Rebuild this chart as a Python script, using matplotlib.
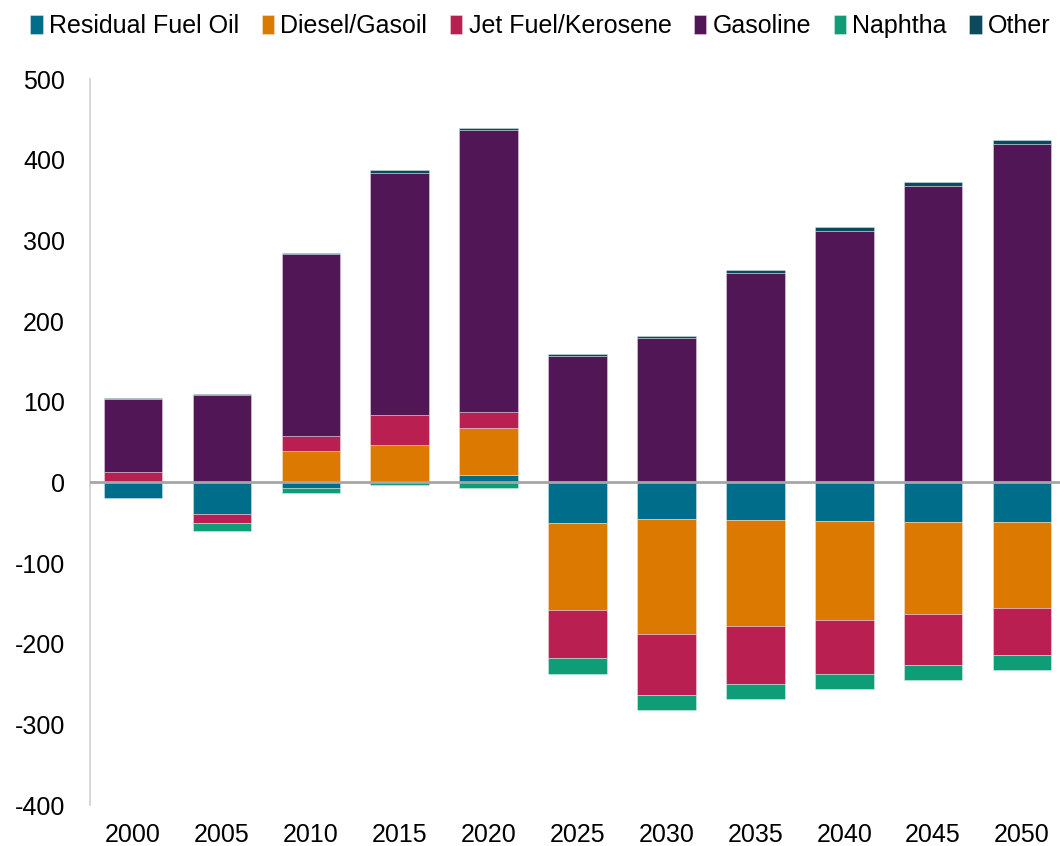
import matplotlib.pyplot as plt
import numpy as np

plt.rcParams['font.family'] = ['Liberation Sans', 'DejaVu Sans']
plt.rcParams['axes.unicode_minus'] = False

years = ['2000', '2005', '2010', '2015', '2020', '2025', '2030', '2035', '2040', '2045', '2050']
residual = [-20, -39, -6.5, 0, 9, -50, -45, -46.7, -48, -48.7, -49.6]
diesel = [0, 0, 39, 46, 58, -108, -142.6, -131.8, -123, -114.4, -106]
jet = [13, -11, 18.6, 37, 20, -59.5, -76, -71.5, -67, -63.2, -58.3]
gasoline = [90.5, 108, 226, 300, 350, 157, 179, 259, 312, 367, 419]
naphtha = [0, -10.5, -6.6, -3, -6.6, -20.2, -18.2, -18.2, -18.2, -18.2, -19]
other = [1.5, 1, 1, 4, 2, 2, 2, 4, 4, 5, 5.5]

series = [
    ('Residual Fuel Oil', residual, '#006E8A'),
    ('Diesel/Gasoil', diesel, '#DB7900'),
    ('Jet Fuel/Kerosene', jet, '#B91F51'),
    ('Gasoline', gasoline, '#501655'),
    ('Naphtha', naphtha, '#0F9D78'),
    ('Other', other, '#0A4A5C'),
]

x = np.arange(len(years))
width = 0.66

fig = plt.figure(figsize=(10.6, 8.46), dpi=100)
ax = fig.add_axes([90 / 1060, 41 / 846, 972 / 1060, 726 / 846])

pos = np.zeros(len(years))
neg = np.zeros(len(years))
for name, vals, color in series:
    vals = np.array(vals, dtype=float)
    bottom = np.where(vals >= 0, pos, neg)
    ax.bar(x, vals, width, bottom=bottom, color=color, label=name,
           edgecolor=(1, 1, 1, 0.4), linewidth=0.6)
    pos += np.where(vals >= 0, vals, 0)
    neg += np.where(vals < 0, vals, 0)

ax.axhline(0, color='#A6A6A6', linewidth=2, zorder=3)
ax.set_xlim(-0.485, 10.45)
ax.set_ylim(-400, 500)
ax.set_yticks(range(-400, 501, 100))
ax.set_xticks(x)
ax.set_xticklabels(years)
ax.tick_params(axis='both', length=0, labelsize=18)
ax.tick_params(axis='y', pad=18)
ax.tick_params(axis='x', pad=13)
for s in ['top', 'right', 'bottom']:
    ax.spines[s].set_visible(False)
ax.spines['left'].set_color('#D0D0D0')
ax.spines['left'].set_linewidth(1.2)

fig.legend(loc='upper center', bbox_to_anchor=(0.51, 1.01), ncol=6, frameon=False,
           fontsize=18, handlelength=0.5, handleheight=0.8, handletextpad=0.25,
           columnspacing=0.9)

fig.savefig('out.png', dpi=100)
